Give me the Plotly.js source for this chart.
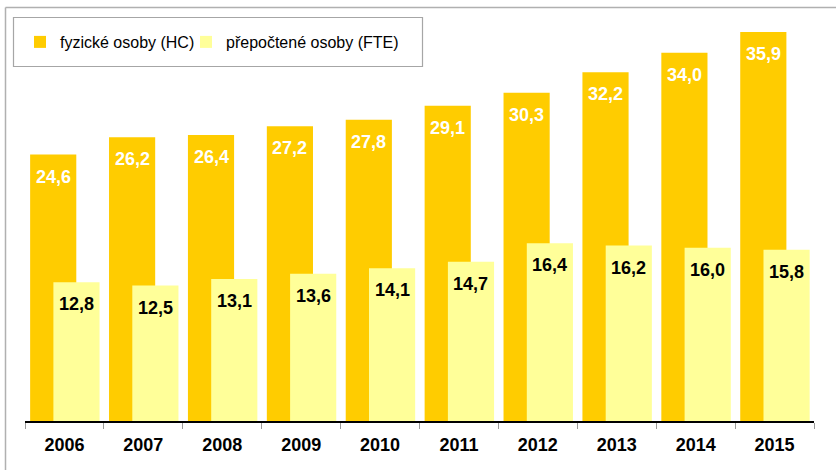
<!DOCTYPE html>
<html>
<head>
<meta charset="utf-8">
<script src="https://cdn.plot.ly/plotly-3.0.1.min.js"></script>
<style>
  html, body { margin: 0; padding: 0; background: #ffffff; }
  #chart { width: 836px; height: 470px; }
</style>
</head>
<body>
<div id="chart"></div>
<script>
const years = ['2006', '2007', '2008', '2009', '2010', '2011', '2012', '2013', '2014', '2015'];
const hcValues = [24.6, 26.2, 26.4, 27.2, 27.8, 29.1, 30.3, 32.2, 34.0, 35.9];
const fteValues = [12.8, 12.5, 13.1, 13.6, 14.1, 14.7, 16.4, 16.2, 16.0, 15.8];
const seriesNames = ['fyzické osoby (HC)', 'přepočtené osoby (FTE)'];

const FONT = 'Liberation Sans, Arial, Helvetica, sans-serif';
const BAR_W = 0.585;
const HC_OFF = -0.435;
const FTE_OFF = -0.14;
const fmt = v => v.toFixed(1).replace('.', ',');

const traces = [
  {
    type: 'bar', name: seriesNames[0], x: years, y: hcValues,
    width: BAR_W, offset: HC_OFF,
    marker: { color: '#FFCC00' },
    legend: 'legend',
    hoverinfo: 'x+y'
  },
  {
    type: 'bar', name: seriesNames[1], x: years, y: fteValues,
    width: BAR_W, offset: FTE_OFF,
    marker: { color: '#FFFF99' },
    legend: 'legend2',
    hoverinfo: 'x+y'
  }
];

const annotations = [];
years.forEach((yr, i) => {
  annotations.push({
    xref: 'x', yref: 'y', x: i + HC_OFF + BAR_W / 2, y: hcValues[i],
    yshift: -22, text: fmt(hcValues[i]), showarrow: false,
    xanchor: 'center', yanchor: 'middle',
    font: { family: FONT, size: 18, color: '#ffffff', weight: 'bold' }
  });
  annotations.push({
    xref: 'x', yref: 'y', x: i + FTE_OFF + BAR_W / 2, y: fteValues[i],
    yshift: -22, text: fmt(fteValues[i]), showarrow: false,
    xanchor: 'center', yanchor: 'middle',
    font: { family: FONT, size: 18, color: '#000000', weight: 'bold' }
  });
});

// pixel -> paper helpers for decorative frame (plot area: x 25..814, y 31..421)
const px = p => (p - 25) / 789;
const py = p => (421 - p) / 390;

const shapes = [
  { type: 'line', xref: 'paper', yref: 'paper', x0: px(5.5), x1: px(5.5), y0: py(7.5), y1: py(480),
    line: { color: '#b0b0b0', width: 1.5 } },
  { type: 'line', xref: 'paper', yref: 'paper', x0: px(5.5), x1: px(845), y0: py(7.5), y1: py(7.5),
    line: { color: '#b0b0b0', width: 1.5 } },
  { type: 'rect', xref: 'paper', yref: 'paper', x0: px(13.5), x1: px(422.5), y0: py(17.5), y1: py(66.5),
    line: { color: '#a6a6a6', width: 1.2 }, fillcolor: 'rgba(0,0,0,0)' }
];

const legendBase = {
  orientation: 'h', xanchor: 'left', y: py(42), yanchor: 'middle',
  bgcolor: 'rgba(0,0,0,0)', borderwidth: 0,
  font: { family: FONT, size: 16, color: '#000000' }
};

const layout = {
  width: 836, height: 470,
  margin: { l: 25, r: 22, t: 31, b: 49, pad: 0 },
  paper_bgcolor: '#ffffff', plot_bgcolor: '#ffffff',
  barmode: 'overlay',
  showlegend: true,
  legend: Object.assign({}, legendBase, { x: px(20) }),
  legend2: Object.assign({}, legendBase, { x: px(186) }),
  xaxis: {
    type: 'category', range: [-0.5, 9.5],
    showgrid: false, zeroline: false,
    showline: true, linecolor: '#000000', linewidth: 1.5,
    ticks: 'outside', tickson: 'boundaries', ticklen: 6, tickcolor: '#999999', tickwidth: 1,
    ticklabelstandoff: 7,
    tickfont: { family: FONT, size: 18, color: '#000000', weight: 'bold' },
    fixedrange: true
  },
  yaxis: {
    range: [0, 36], visible: false, showgrid: false, zeroline: false, fixedrange: true
  },
  annotations: annotations,
  shapes: shapes,
  font: { family: FONT }
};

Plotly.newPlot('chart', traces, layout, { displayModeBar: false, staticPlot: true });
</script>
</body>
</html>
